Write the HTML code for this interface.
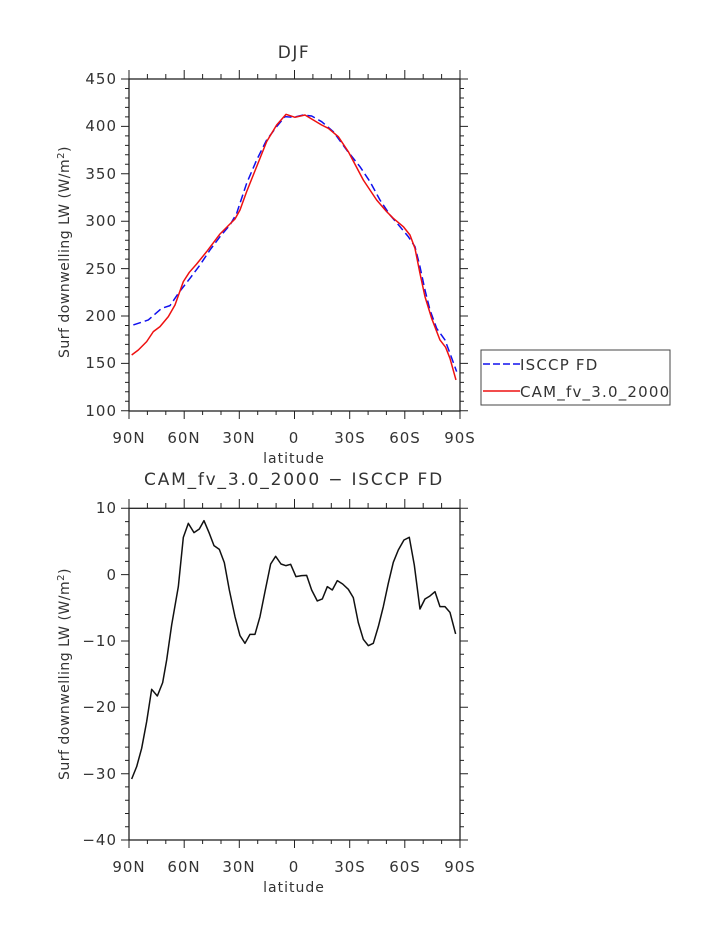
<!DOCTYPE html>
<html><head><meta charset="utf-8"><style>
html,body{margin:0;padding:0;background:#fff;}
svg{display:block;}
text{font-family:"DejaVu Sans","Liberation Sans",sans-serif;fill:#333;}
</style></head><body>
<svg width="723" height="935" viewBox="0 0 723 935" xmlns="http://www.w3.org/2000/svg">
<!-- TOP PLOT -->
<text x="294" y="58" font-size="17" text-anchor="middle" letter-spacing="1.5">DJF</text>
<rect x="129" y="79" width="331" height="332" fill="none" stroke="#222" stroke-width="1.3"/>
<g stroke="#222" stroke-width="1">
<path d="M121,79H129M121,126.4H129M121,173.8H129M121,221.2H129M121,268.6H129M121,316H129M121,363.4H129M121,410.8H129
M460,79H468M460,126.4H468M460,173.8H468M460,221.2H468M460,268.6H468M460,316H468M460,363.4H468M460,410.8H468"/>
<path d="M125,88.5H129M125,98H129M125,107.4H129M125,116.9H129M125,135.9H129M125,145.4H129M125,154.8H129M125,164.3H129M125,183.3H129M125,192.8H129M125,202.2H129M125,211.7H129M125,230.7H129M125,240.2H129M125,249.6H129M125,259.1H129M125,278.1H129M125,287.6H129M125,297H129M125,306.5H129M125,325.5H129M125,335H129M125,344.4H129M125,353.9H129M125,372.9H129M125,382.4H129M125,391.8H129M125,401.3H129
M460,88.5H464M460,98H464M460,107.4H464M460,116.9H464M460,135.9H464M460,145.4H464M460,154.8H464M460,164.3H464M460,183.3H464M460,192.8H464M460,202.2H464M460,211.7H464M460,230.7H464M460,240.2H464M460,249.6H464M460,259.1H464M460,278.1H464M460,287.6H464M460,297H464M460,306.5H464M460,325.5H464M460,335H464M460,344.4H464M460,353.9H464M460,372.9H464M460,382.4H464M460,391.8H464M460,401.3H464"/>
<path d="M129,70V79M184.2,70V79M239.3,70V79M294.5,70V79M349.7,70V79M404.8,70V79M460,70V79
M129,411V419M184.2,411V419M239.3,411V419M294.5,411V419M349.7,411V419M404.8,411V419M460,411V419"/>
<path d="M147.4,74V79M165.8,74V79M202.6,74V79M221,74V79M257.7,74V79M276.1,74V79M312.9,74V79M331.3,74V79M368.1,74V79M386.4,74V79M423.2,74V79M441.6,74V79
M147.4,411V415M165.8,411V415M202.6,411V415M221,411V415M257.7,411V415M276.1,411V415M312.9,411V415M331.3,411V415M368.1,411V415M386.4,411V415M423.2,411V415M441.6,411V415"/>
</g>
<g font-size="15" text-anchor="end" letter-spacing="1">
<text x="117" y="84">450</text><text x="117" y="131">400</text><text x="117" y="179">350</text><text x="117" y="226">300</text><text x="117" y="274">250</text><text x="117" y="321">200</text><text x="117" y="368">150</text><text x="117" y="416">100</text>
</g>
<g font-size="15" text-anchor="middle" letter-spacing="1">
<text x="129" y="443">90N</text><text x="184" y="443">60N</text><text x="239" y="443">30N</text><text x="294" y="443">0</text><text x="350" y="443">30S</text><text x="405" y="443">60S</text><text x="460" y="443">90S</text>
<text x="294" y="463" font-size="14">latitude</text>
</g>
<text transform="translate(69,252) rotate(-90)" font-size="14" text-anchor="middle" letter-spacing="0.5">Surf downwelling LW (W/m<tspan dy="-5" font-size="10">2</tspan><tspan dy="5">)</tspan></text>
<g transform="translate(100,60) scale(0.3333)" fill="none" stroke-width="4.5" stroke-linejoin="round">
<polyline stroke="#1010ee" stroke-dasharray="24,12" points="100,795 145,780 185,745 210,737 235,700 270,655 300,615 330,570 360,530 390,495 410,460 440,370 470,300 500,240 530,200 555,170 580,172 610,165 635,168 665,185 700,215 740,270 780,320 810,365 840,420 870,465 900,500 925,530 945,560 960,620 975,690 990,750 1010,805 1035,840 1050,880 1070,935"/>
<polyline stroke="#ee1010" points="95,885 115,870 140,845 160,815 180,800 205,770 225,735 250,665 268,637 290,612 320,575 360,522 385,497 405,477 420,450 440,395 470,320 500,245 530,195 558,163 585,172 615,165 640,180 665,195 685,205 715,230 745,275 790,360 830,420 860,455 880,475 910,500 930,525 945,565 960,640 975,710 995,775 1020,840 1037,862 1050,895 1068,960"/>
</g>
<!-- legend -->
<rect x="481" y="350" width="189" height="55" fill="#fff" stroke="#444" stroke-width="1"/>
<line x1="483" y1="364" x2="520" y2="364" stroke="#1010ee" stroke-width="1.5" stroke-dasharray="7,3"/>
<line x1="483" y1="391" x2="520" y2="391" stroke="#ee1010" stroke-width="1.5"/>
<text x="520" y="370" font-size="15" letter-spacing="1.2">ISCCP FD</text>
<text x="520" y="397" font-size="15" letter-spacing="1.2">CAM_fv_3.0_2000</text>

<!-- BOTTOM PLOT -->
<text x="294" y="485" font-size="17" text-anchor="middle" letter-spacing="1.8">CAM_fv_3.0_2000 − ISCCP FD</text>
<rect x="129" y="508.3" width="331" height="331.7" fill="none" stroke="#222" stroke-width="1.3"/>
<g stroke="#222" stroke-width="1">
<path d="M121,508.3H129M121,574.6H129M121,641H129M121,707.3H129M121,773.7H129M121,840H129
M460,508.3H468M460,574.6H468M460,641H468M460,707.3H468M460,773.7H468M460,840H468"/>
<path d="M125,521.6H129M125,534.9H129M125,548.1H129M125,561.4H129M125,587.9H129M125,601.2H129M125,614.5H129M125,627.7H129M125,654.3H129M125,667.5H129M125,680.8H129M125,694H129M125,720.6H129M125,733.9H129M125,747.1H129M125,760.4H129M125,786.9H129M125,800.2H129M125,813.5H129M125,826.7H129
M460,521.6H464M460,534.9H464M460,548.1H464M460,561.4H464M460,587.9H464M460,601.2H464M460,614.5H464M460,627.7H464M460,654.3H464M460,667.5H464M460,680.8H464M460,694H464M460,720.6H464M460,733.9H464M460,747.1H464M460,760.4H464M460,786.9H464M460,800.2H464M460,813.5H464M460,826.7H464"/>
<path d="M129,499V508M184.2,499V508M239.3,499V508M294.5,499V508M349.7,499V508M404.8,499V508M460,499V508
M129,840V848M184.2,840V848M239.3,840V848M294.5,840V848M349.7,840V848M404.8,840V848M460,840V848"/>
<path d="M147.4,503V508M165.8,503V508M202.6,503V508M221,503V508M257.7,503V508M276.1,503V508M312.9,503V508M331.3,503V508M368.1,503V508M386.4,503V508M423.2,503V508M441.6,503V508
M147.4,840V844M165.8,840V844M202.6,840V844M221,840V844M257.7,840V844M276.1,840V844M312.9,840V844M331.3,840V844M368.1,840V844M386.4,840V844M423.2,840V844M441.6,840V844"/>
</g>
<g font-size="15" text-anchor="end" letter-spacing="1">
<text x="117" y="513">10</text><text x="117" y="580">0</text><text x="117" y="646">−10</text><text x="117" y="712">−20</text><text x="117" y="779">−30</text><text x="117" y="845">−40</text>
</g>
<g font-size="15" text-anchor="middle" letter-spacing="1">
<text x="129" y="872">90N</text><text x="184" y="872">60N</text><text x="239" y="872">30N</text><text x="294" y="872">0</text><text x="350" y="872">30S</text><text x="405" y="872">60S</text><text x="460" y="872">90S</text>
<text x="294" y="892" font-size="14">latitude</text>
</g>
<text transform="translate(69,674) rotate(-90)" font-size="14" text-anchor="middle" letter-spacing="0.5">Surf downwelling LW (W/m<tspan dy="-5" font-size="10">2</tspan><tspan dy="5">)</tspan></text>
<g transform="translate(100,480) scale(0.3333)" fill="none" stroke-width="4.5" stroke-linejoin="round">
<polyline stroke="#111" points="95,897 110,860 125,805 140,725 155,628 172,648 188,608 200,540 215,435 235,320 250,172 265,130 282,158 298,147 312,122 328,160 342,197 358,208 373,248 388,330 405,410 420,467 435,490 450,463 465,463 480,410 495,335 512,252 527,229 543,252 558,257 572,253 588,290 605,287 620,286 635,330 652,363 667,357 682,320 697,330 712,302 728,312 745,328 760,353 775,428 790,478 805,497 820,490 835,440 850,380 865,310 880,247 895,210 912,180 928,172 943,255 960,387 975,357 990,348 1005,335 1020,380 1035,380 1050,397 1067,462"/>
</g>
</svg>
</body></html>
